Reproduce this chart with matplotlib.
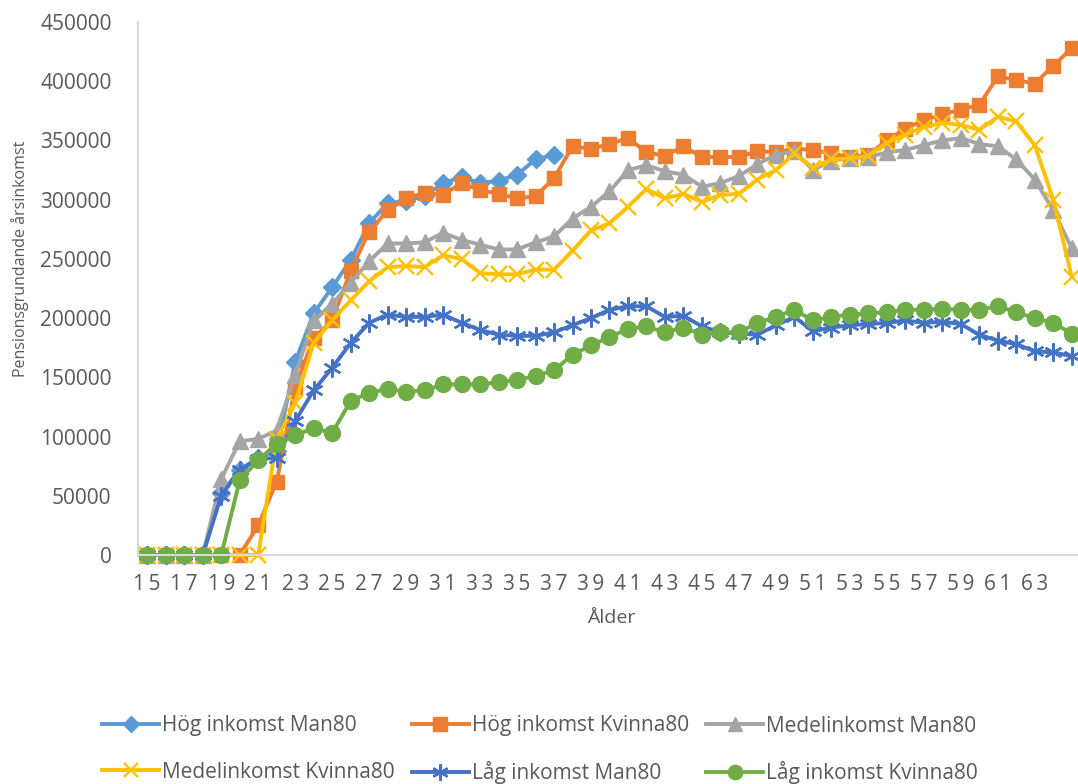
import numpy as np
import matplotlib

matplotlib.use("Agg")
import matplotlib.pyplot as plt

plt.rcParams["font.family"] = ["Open Sans", "DejaVu Sans"]

nan = np.nan

# -- Series: pensionsgrundande årsinkomst per ålder (15-65) ------------------
ages = list(range(15, 66))

hog_man = [0, 0, 0, 0,
           52000, 72000, 82000, 88000, 163000, 204000, 226000, 249000, 280000, 297000,
           299000, 303000, 314000, 319000, 314000, 316000, 321000, 334000, 338000] + [nan] * 28

hog_kvinna = [0, 0, 0, 0, 0, 0,
              25000, 62000, 142000, 183000, 198000, 240000, 273000, 291000, 301000, 306000,
              304000, 314000, 308000, 305000, 301000, 303000, 318000, 345000, 343000, 347000,
              352000, 340000, 337000, 345000, 336000, 336000, 336000, 341000, 340000, 343000,
              342000, 339000, 336000, 338000, 350000, 360000, 367000, 372000, 376000, 380000,
              404000, 401000, 398000, 413000, 428000]

medel_man = [0, 0, 0, 0,
             64000, 96000, 98000, 105000, 152000, 198000, 212000, 230000, 248000, 263000,
             263000, 264000, 272000, 266000, 262000, 258000, 258000, 264000, 269000, 284000,
             294000, 307000, 325000, 329000, 324000, 321000, 311000, 314000, 320000, 330000,
             338000, 341000, 325000, 333000, 335000, 336000, 340000, 342000, 346000, 350000,
             352000, 347000, 345000, 334000, 317000, 291000, 259000]

medel_kvinna = [0, 0, 0, 0, 0, 0, 0,
                98000, 128000, 179000, 198000, 215000, 231000, 243000, 244000, 243000, 253000,
                250000, 238000, 237000, 237000, 241000, 241000, 257000, 274000, 280000, 294000,
                309000, 301000, 305000, 298000, 304000, 305000, 317000, 325000, 339000, 327000,
                334000, 335000, 337000, 348000, 355000, 361000, 365000, 363000, 359000, 370000,
                366000, 346000, 300000, 235000]

lag_man = [0, 0, 0, 0,
           50000, 72000, 81000, 82000, 113000, 139000, 158000, 179000, 196000, 203000,
           201000, 201000, 203000, 196000, 190000, 186000, 185000, 185000, 188000, 194000,
           200000, 207000, 210000, 210000, 201000, 202000, 193000, 188000, 187000, 186000,
           194000, 201000, 189000, 192000, 194000, 195000, 196000, 198000, 196000, 197000,
           195000, 186000, 181000, 178000, 172000, 171000, 168000]

lag_kvinna = [0, 0, 0, 0, 0,
              63000, 80000, 94000, 101000, 107000, 103000, 130000, 137000, 140000, 138000,
              139000, 144000, 144000, 144000, 146000, 148000, 151000, 156000, 169000, 177000,
              184000, 191000, 193000, 188000, 192000, 186000, 188000, 188000, 196000, 201000,
              207000, 198000, 201000, 203000, 204000, 205000, 207000, 207000, 208000, 207000,
              207000, 210000, 205000, 200000, 196000, 187000]

series = [
    ("Hög inkomst Man80", hog_man, "#5B9BD5", "D", 9.5, 0),
    ("Hög inkomst Kvinna80", hog_kvinna, "#ED7D31", "s", 10.5, 0),
    ("Medelinkomst Man80", medel_man, "#A5A5A5", "^", 11, 0),
    ("Medelinkomst Kvinna80", medel_kvinna, "#FFC000", "x", 11, 1.7),
    ("Låg inkomst Man80", lag_man, "#4472C4", (6, 2, 0), 13, 1.7),
    ("Låg inkomst Kvinna80", lag_kvinna, "#70AD47", "o", 11.5, 0),
]

W, H = 1078, 784
fig = plt.figure(figsize=(W / 100, H / 100), dpi=100)
ax = fig.add_axes([138 / W, 1 - 555 / H, 943 / W, 533 / H])

handles = []
for label, values, color, marker, msize, mew in series:
    kw = dict(markeredgewidth=mew) if mew else dict(markeredgecolor=color)
    (line,) = ax.plot(ages, values, color=color, linewidth=2.8, marker=marker,
                      markersize=msize, markerfacecolor=color, label=label,
                      clip_on=False, solid_joinstyle="round", **kw)
    if mew:
        line.set_markeredgecolor(color)
    handles.append(line)

# -- Axes styling ------------------------------------------------------------
ax.set_xlim(14.5, 65.5)
ax.set_ylim(0, 450000)
ax.set_yticks(np.arange(0, 450001, 50000))
ax.set_yticklabels([f"{v:d}" for v in range(0, 450001, 50000)])
xt = list(range(15, 64, 2))
ax.set_xticks(xt)
ax.set_xticklabels(["\u2009".join(str(a)) for a in xt])
ax.tick_params(axis="both", length=0, labelsize=15, colors="#595959")
ax.tick_params(axis="y", pad=19)
ax.tick_params(axis="x", pad=14)

for side in ("top", "right"):
    ax.spines[side].set_visible(False)
for side in ("left", "bottom"):
    ax.spines[side].set_color("#D9D9D9")
    ax.spines[side].set_linewidth(1.5)

fig.text(611 / W, 1 - 618 / H, "Ålder", ha="center", va="center",
         fontsize=14, color="#595959")
fig.text(20 / W, 1 - 259 / H, "Pensionsgrundande årsinkomst", ha="center",
         va="center", rotation=90, fontsize=11.5, color="#595959")

# Legend laid out row by row (matplotlib fills columns first)
order = [0, 3, 1, 4, 2, 5]
fig.legend([handles[i] for i in order], [handles[i].get_label() for i in order],
           ncol=3, loc="center", bbox_to_anchor=(540 / W, 1 - 750 / H),
           frameon=False, fontsize=15, labelcolor="#595959", handlelength=2.75,
           handletextpad=0.15, columnspacing=0.8, labelspacing=1.2,
           numpoints=1, markerscale=0.9)

fig.savefig("out.png", dpi=100)
